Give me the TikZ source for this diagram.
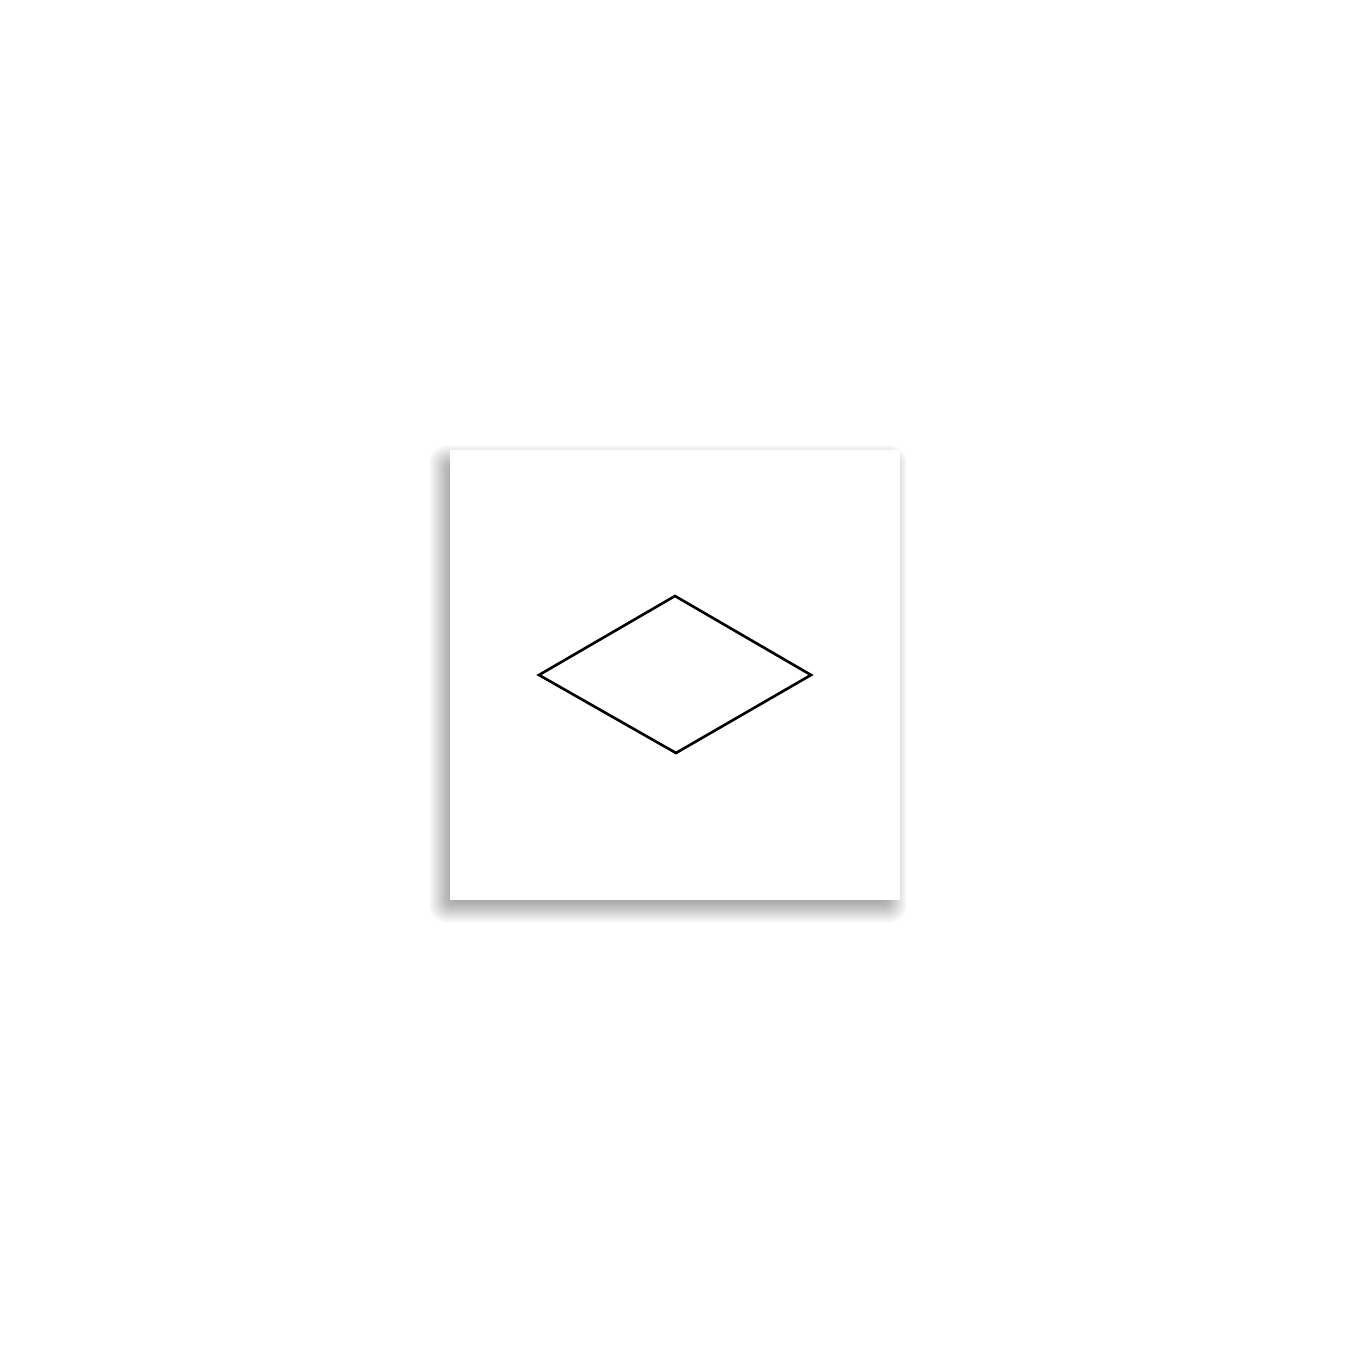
\documentclass[tikz,border=0pt]{standalone}
\begin{document}
\begin{tikzpicture}
\tikzset{cardbox/.style={fill=white,draw=none,minimum width=4.5cm,minimum height=4.5cm,inner sep=0pt,outer sep=0pt},
 shadowlayer/.style={fill=black,fill opacity=0.0175,draw=none},
 rhomb/.style={draw=black,line width=0.75pt,line join=miter}}
\useasboundingbox[fill=white] (0,0) rectangle (13.5,13.5);
% soft drop shadow, offset down-left
\foreach \k in {-14,...,14}{
  \pgfmathsetmacro{\r}{0.01*\k}
  \pgfmathsetmacro{\rc}{0.01+0.006*(\k+14)}
  \fill[shadowlayer,rounded corners=\rc cm] (4.43-\r,4.41-\r) rectangle (8.93+\r,8.91+\r);
}
\node[cardbox] (cardnode) at (6.75,6.75) {};
\coordinate (top) at (6.75,7.54);
\coordinate (right) at (8.11,6.75);
\coordinate (bottom) at (6.76,5.97);
\coordinate (left) at (5.39,6.75);
\draw[rhomb] (top) -- (right) -- (bottom) -- (left) -- cycle;
\end{tikzpicture}
\end{document}
